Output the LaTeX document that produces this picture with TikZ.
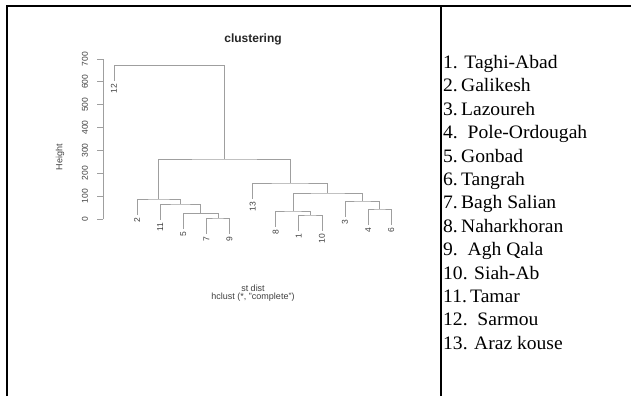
\documentclass[tikz,border=0pt]{standalone}
\usepackage{fontspec}
\setmainfont{Liberation Serif}
\setsansfont{Liberation Sans}
\usetikzlibrary{positioning}

\begin{document}
\begin{tikzpicture}[x=1pt, y=1pt,
  rule/.style = {draw=black, line width=2pt},
  dend/.style = {draw=gray!75, line width=0.8pt},
  plottext/.style = {font=\sffamily\fontsize{9}{9}\selectfont, text=black!75, inner sep=0pt, align=center},
  leaf/.style = {font=\sffamily\fontsize{8.5}{8.5}\selectfont, text=black!75, rotate=90, anchor=east, inner sep=0pt},
  entry/.style = {font=\fontsize{19}{19}\selectfont, anchor=base west, inner sep=0pt, xscale=1.03}
]
\useasboundingbox (0,0) rectangle (631,396);

% table frame
\draw[rule] (7,0) -- (7,390) -- (631,390);
\draw[rule] (441,0) -- (441,390);

\node[plottext, text=black!85, font=\sffamily\bfseries\fontsize{12}{12}\selectfont] (title) at (253,357) {clustering};
\node[plottext] (xlab) at (253,108) {st dist};
\node[plottext] (sub) at (253,99) {hclust (*, "complete")};

\begin{scope}[shift={(0,177)}, y=0.22857pt]
  % height axis
  \draw[dend] (103,0) -- (103,700);
  \foreach \v in {0,100,...,700} {
    \draw[dend] (103,\v) -- (97,\v);
    \node[plottext, rotate=90, font=\sffamily\fontsize{8.5}{8.5}\selectfont] (t\v) at (85,\v) {\v};
  }
  \node[plottext, rotate=90] (ylab) at (60,271) {Height};

  % leaves
  \foreach \lab/\i/\h in {12/0/674, 2/1/87.5, 11/2/65.6, 5/3/26, 7/4/4.4, 9/5/4.4,
      13/6/157.5, 8/7/35, 1/8/17.5, 10/9/17.5, 3/10/78.75, 4/11/43.75, 6/12/43.75} {
    \coordinate (l\lab) at (114+23.1*\i, \h-70);
    \node[leaf] (n\lab) at (114+23.1*\i, \h-83) {\lab};
  }

  % merges
  \coordinate (m79) at (217.95, 4.4);
  \coordinate (m579) at (200.63, 26);
  \coordinate (m11) at (180.41, 65.6);
  \coordinate (m2) at (158.76, 87.5);
  \coordinate (m110) at (310.35, 17.5);
  \coordinate (m8) at (293.03, 35);
  \coordinate (m46) at (379.65, 43.75);
  \coordinate (m3) at (362.33, 78.75);
  \coordinate (m83) at (327.68, 113.75);
  \coordinate (m13) at (290.14, 157.5);
  \coordinate (mlow) at (224.45, 262.5);
  \coordinate (mtop) at (169.2, 674);

  \draw[dend] (l7) |- (m79) -| (l9);
  \draw[dend] (l5) |- (m579) -| (m79);
  \draw[dend] (l11) |- (m11) -| (m579);
  \draw[dend] (l2) |- (m2) -| (m11);
  \draw[dend] (l1) |- (m110) -| (l10);
  \draw[dend] (l8) |- (m8) -| (m110);
  \draw[dend] (l4) |- (m46) -| (l6);
  \draw[dend] (l3) |- (m3) -| (m46);
  \draw[dend] (m8) |- (m83) -| (m3);
  \draw[dend] (l13) |- (m13) -| (m83);
  \draw[dend] (m2) |- (mlow) -| (m13);
  \draw[dend] (l12) |- (mtop) -| (mlow);
\end{scope}

% site list
\foreach \k/\txt in {1/{1. Taghi-Abad}, 2/{2.\,Galikesh}, 3/{3.\,Lazoureh}, 4/{4.\ \ Pole-Ordougah},
    5/{5.\,Gonbad}, 6/{6.\,Tangrah}, 7/{7.\,Bagh Salian}, 8/{8.\,Naharkhoran}, 9/{9.\ \ Agh Qala},
    10/{10. Siah-Ab}, 11/{11.\,Tamar}, 12/{12.\ \ Sarmou}, 13/{13. Araz kouse}} {
  \node[entry] (s\k) at (443, 327.5-23.4*\k+23.4) {\txt};
}
\end{tikzpicture}
\end{document}
